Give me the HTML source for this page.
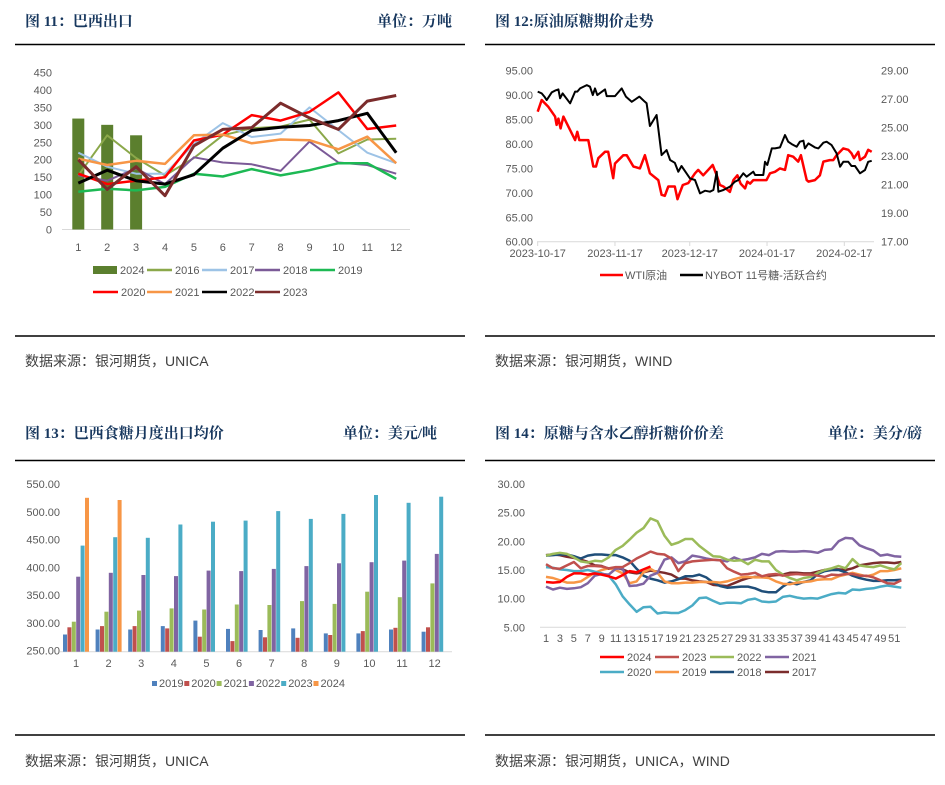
<!DOCTYPE html>
<html><head><meta charset="utf-8"><style>
body{margin:0;background:#fff;}
svg text{font-family:"Liberation Sans","Noto Sans CJK SC",sans-serif;}
.title{font-family:"Liberation Serif","Noto Serif CJK SC",serif;font-weight:bold;font-size:15px;fill:#17375E;}
.src{font-size:14px;fill:#404040;}
.ax{font-size:11px;fill:#595959;}
</style></head><body>
<svg id="root" width="945" height="780" viewBox="0 0 945 780" xmlns="http://www.w3.org/2000/svg">
<g>
<text class="title" x="25" y="26">图 11：巴西出口</text>
<text class="title" x="452" y="26" text-anchor="end">单位：万吨</text>
<line x1="15" y1="44.5" x2="465" y2="44.5" stroke="#000" stroke-width="1.5"/>
</g>
<g>
<text class="title" x="495" y="26">图 12:原油原糖期价走势</text>
<line x1="485" y1="44.5" x2="935" y2="44.5" stroke="#000" stroke-width="1.5"/>
</g>
<line x1="15" y1="336" x2="465" y2="336" stroke="#000" stroke-width="1.5"/>
<line x1="485" y1="336" x2="935" y2="336" stroke="#000" stroke-width="1.5"/>
<text class="src" x="25" y="366">数据来源：银河期货，UNICA</text>
<text class="src" x="495" y="366">数据来源：银河期货，WIND</text>
<g>
<text class="title" x="25" y="438">图 13：巴西食糖月度出口均价</text>
<text class="title" x="437" y="438" text-anchor="end">单位：美元/吨</text>
<line x1="15" y1="460.5" x2="465" y2="460.5" stroke="#000" stroke-width="1.5"/>
</g>
<g>
<text class="title" x="495" y="438">图 14：原糖与含水乙醇折糖价价差</text>
<text class="title" x="922" y="438" text-anchor="end">单位：美分/磅</text>
<line x1="485" y1="460.5" x2="935" y2="460.5" stroke="#000" stroke-width="1.5"/>
</g>
<line x1="15" y1="735" x2="465" y2="735" stroke="#000" stroke-width="1.5"/>
<line x1="485" y1="735" x2="935" y2="735" stroke="#000" stroke-width="1.5"/>
<text class="src" x="25" y="766">数据来源：银河期货，UNICA</text>
<text class="src" x="495" y="766">数据来源：银河期货，UNICA，WIND</text>
<g id="c1"></g>
<g id="c2"></g>
<g id="c3"></g>
<g id="c4"></g>
</svg>
<script>
// ---------- Chart 1 data ----------
const c1Months = ['1','2','3','4','5','6','7','8','9','10','11','12'];
const c1Ticks = [0,50,100,150,200,250,300,350,400,450];
const c1Bars2024 = [318,300,270];
const c1_2016 = [155,270,205,155,205,270,290,295,315,218,258,260];
const c1_2017 = [220,180,160,160,245,305,265,275,350,285,220,190];
const c1_2018 = [155,140,175,130,207,192,187,168,252,192,185,160];
const c1_2019 = [108,117,112,122,160,152,173,155,170,190,190,145];
const c1_2020 = [160,130,140,150,255,272,328,312,337,393,288,298];
const c1_2021 = [203,185,197,188,270,272,247,258,256,230,266,190];
const c1_2022 = [133,170,140,130,157,233,284,293,298,312,333,220];
const c1_2023 = [200,115,180,97,240,287,292,362,320,287,368,384];
// ---------- Chart 2 data ----------
const c2TickLabels = ['2023-10-17','2023-11-17','2023-12-17','2024-01-17','2024-02-17'];
const c2TickDays = [0,31,61,92,123];
const c2LeftTicks = [60,65,70,75,80,85,90,95];
const c2RightTicks = [17,19,21,23,25,27,29];
const wtiDays = [0,1.6,4.3,7,7.6,8.3,9.2,10.3,15,15.9,16.7,20.3,22.3,23.4,24.3,27,28.3,30.3,31,34.4,35.7,38.4,41,43,45,48.4,49.7,51,52.4,55,56.1,57,58.2,60.4,63.1,64.4,66.4,70.2,71.8,73.1,74.5,77.1,78.5,80.1,81.4,83.2,84.1,85.2,86.5,89.8,91.8,93.2,95.2,97.2,99.2,100.5,102.5,104.5,105.6,107.9,108.6,111.2,113.2,114.6,117.2,118.6,119.9,122.6,124.6,125.9,126.9,128.6,129.3,131.3,132.6,134];
const wtiValues = [86.6,89.0,87.6,85.6,83.9,85.2,83.2,85.6,80.8,82.5,80.8,80.8,75.4,75.4,77.1,78.4,78.4,73.0,76.0,77.7,77.7,75.4,75.0,77.7,74.0,72.6,69.6,69.4,71.3,71.3,68.7,70.0,71.6,72.0,74.0,74.7,73.6,75.7,73.6,71.6,71.3,70.2,72.6,73.6,71.9,70.9,72.3,71.9,72.6,72.6,72.6,74.0,74.3,75.0,74.7,77.7,77.4,76.4,77.7,72.6,72.3,72.6,73.6,76.4,76.7,76.7,77.7,79.1,78.8,78.1,77.1,78.4,76.7,77.4,78.8,78.4];
const sugarDays = [0,1.6,2.7,3.6,5.6,7,8.3,9,10,13,15,15.9,17,19.7,21,22.1,23,23.9,27,27.7,31,33.7,35.4,37.7,40.8,43,43.7,45,47.7,49.7,51.7,53.1,55,56.4,57.7,59.7,61.1,63.1,65.1,67.1,69.1,70.5,71.8,72.5,74.5,77.1,79.1,80.5,82.5,83.8,86.5,87.2,90.5,91.2,92.1,93.9,95.2,97.2,99.2,100.5,101.9,103.9,105.2,106.6,107.2,108.6,111.2,112.6,114.6,115.9,117.9,119.9,121.3,122.6,124.6,125.9,127.3,129.3,131.3,132.6,134];
const sugarValues = [27.53,27.41,27.18,26.94,27.48,27.6,27.69,27.06,27.41,26.71,27.53,27.53,27.76,27.99,27.88,27.29,27.76,27.29,27.69,27.22,27.22,27.76,27.18,26.82,27.18,26.82,26.71,25.12,25.89,23.08,23.43,22.73,22.54,21.91,22.31,21.8,21.44,21.33,20.39,20.58,20.51,20.63,21.91,20.51,20.63,20.86,21.21,21.33,21.8,21.56,21.91,21.68,21.68,22.61,22.38,23.55,23.55,23.62,24.49,24.02,23.85,23.67,24.02,24.09,23.55,23.9,23.62,23.55,23.95,24.02,23.78,23.2,22.26,22.61,22.61,22.31,22.31,21.8,22.03,22.61,22.68];
// ---------- Chart 3 data ----------
const c3Months = ['1','2','3','4','5','6','7','8','9','10','11','12'];
const c3Ticks = [250,300,350,400,450,500,550];
const c3_2019 = [281,290,290,296,306,291,289,292,283,283,290,286];
const c3_2020 = [294,296,296,292,277,269,276,275,280,287,293,294];
const c3_2021 = [304,322,324,328,326,335,334,341,336,358,348,373];
const c3_2022 = [385,392,388,386,396,395,399,404,409,411,414,426];
const c3_2023 = [441,456,455,479,484,486,503,489,498,532,518,529];
const c3_2024 = [527,523];
// ---------- Chart 4 data ----------
const c4Ticks = [5,10,15,20,25,30];
const c4_2024 = [12.9,12.8,12.9,13.8,14.4,14.4,14.2,14.4,14.2,13.9,13.5,14.1,14.8,14.6,15.1,15.6];
const c4_2023 = [16.0,15.3,15.2,15.8,16.4,15.3,15.7,15.7,15.6,15.3,15.5,15.5,16.2,17.0,17.6,18.2,17.8,17.7,17.0,14.8,16.2,16.5,16.6,16.7,16.8,16.7,15.3,14.7,14.2,14.3,14.5,13.9,14.2,14.3,14.0,14.2,14.3,14.2,14.2,14.0,13.8,14.2,14.1,14.3,14.3,14.0,14.0,13.7,13.2,12.7,12.6,13.2];
const c4_2022 = [17.5,17.8,18.0,17.8,17.2,16.5,16.3,16.6,16.5,17.2,18.5,19.2,20.3,21.5,22.3,24.0,23.5,21.0,19.4,19.8,20.4,20.4,19.2,18.3,17.4,17.3,16.8,16.6,16.7,16.0,16.8,16.5,16.5,15.0,14.2,13.6,13.2,13.6,13.8,14.5,15.0,15.3,15.7,15.3,16.9,15.8,15.6,15.5,15.8,15.4,15.1,16.2];
const c4_2021 = [12.1,11.6,11.9,11.7,11.8,12.0,12.7,14.0,14.3,14.2,15.2,15.3,12.2,12.3,12.6,14.0,14.5,16.8,17.2,16.2,16.5,17.5,17.3,17.0,16.8,16.7,16.5,17.2,16.7,16.9,17.2,17.8,17.6,18.2,18.3,18.2,18.2,18.3,18.2,18.0,18.5,18.6,20.0,20.6,20.5,19.3,18.8,18.4,17.5,17.7,17.4,17.3];
const c4_2020 = [15.5,15.4,15.1,15.0,14.8,14.8,15.0,14.7,14.4,14.0,12.5,10.4,9.0,7.7,8.5,8.6,7.4,7.6,7.5,7.5,8.0,8.8,10.1,10.2,9.6,9.1,9.3,9.3,9.2,9.8,10.0,9.5,9.4,9.5,10.3,10.5,10.2,10.0,10.1,10.0,10.4,10.8,11.0,10.9,11.6,11.5,11.7,11.8,12.1,12.3,12.1,11.9];
const c4_2019 = [13.8,13.6,13.2,12.8,12.8,13.0,13.8,14.5,15.0,15.3,15.0,14.4,12.7,13.0,14.6,15.2,14.5,13.0,12.7,12.7,12.8,12.8,12.9,12.9,12.9,12.8,13.0,13.4,13.7,13.8,13.7,13.7,13.6,13.0,12.6,12.5,12.8,12.9,13.0,13.3,13.4,13.4,13.9,14.2,14.5,14.2,13.9,14.2,14.8,14.8,15.0,15.3];
const c4_2018 = [17.5,17.6,17.7,17.7,17.4,17.0,17.5,17.7,17.7,17.6,17.6,17.2,16.6,15.2,14.0,13.5,13.2,12.8,13.0,13.4,13.9,13.9,14.2,13.7,12.8,12.2,11.9,12.0,12.1,12.1,11.8,11.3,11.1,11.1,12.1,12.8,12.5,12.9,13.2,14.3,14.8,15.0,15.0,14.6,14.0,13.6,13.3,13.1,13.1,13.2,13.2,13.3];
const c4_2017 = [17.6,17.7,17.6,17.3,17.1,16.8,16.4,15.8,15.7,15.2,15.4,15.1,14.6,14.4,14.6,14.9,14.7,14.5,14.2,13.5,13.5,13.2,13.0,12.9,12.4,12.3,12.2,12.7,13.2,13.6,13.8,13.8,14.0,14.1,14.2,14.5,14.5,14.4,14.4,14.7,15.0,15.1,15.1,15.0,15.3,15.8,16.0,16.2,16.3,16.3,16.2,16.4];

const NS='http://www.w3.org/2000/svg';
function mk(parent, tag, attrs, txt){
  const el=document.createElementNS(NS,tag);
  for(const k in attrs) el.setAttribute(k,attrs[k]);
  if(txt!==undefined) el.textContent=txt;
  parent.appendChild(el); return el;
}
function polyline(parent, xs, ys, color, w, name){
  const pts=xs.map((x,i)=>x.toFixed(1)+','+ys[i].toFixed(1)).join(' ');
  const el=mk(parent,'polyline',{points:pts,fill:'none',stroke:color,'stroke-width':w,'stroke-linejoin':'round'});
  
  
  return el;
}
function label(parent, x, y, t, cls, anchor, name, size){
  const el=mk(parent,'text',{x:x,y:y,class:cls,'text-anchor':anchor||'start'},t);
  if(size) el.setAttribute('font-size',size);
  
  
  return el;
}

// ---------- Chart 1 ----------
(function(){
  const g=document.getElementById('c1');
  const X=i=>78.3+i*28.9, Y=v=>229.5-v*(157/450);
  c1Ticks.forEach(t=>label(g,52,Y(t)+4,String(t),'ax','end','y-tick-label',12));
  mk(g,'line',{x1:62,y1:229.5,x2:410,y2:229.5,stroke:'#d9d9d9'});
  c1Months.forEach((m,i)=>label(g,X(i),251,m,'ax','middle','x-tick-label',12));
  c1Bars2024.forEach((v,i)=>{
    const r=mk(g,'rect',{x:X(i)-6,y:Y(v),width:12,height:229.5-Y(v),fill:'#5B7F2E'});
    
    
  });
  const series=[[c1_2016,'#8BA84A',2,'line-2016'],[c1_2017,'#9DC3E6',2,'line-2017'],[c1_2018,'#7B5A97',2,'line-2018'],[c1_2019,'#1DB954',2.5,'line-2019'],[c1_2020,'#FF0000',2.5,'line-2020'],[c1_2021,'#F79646',2.5,'line-2021'],[c1_2022,'#000000',3,'line-2022'],[c1_2023,'#7B2C2C',3,'line-2023']];
  series.forEach(s=>polyline(g,s[0].map((v,i)=>X(i)),s[0].map(Y),s[1],s[2],s[3]));
  const r=mk(g,'rect',{x:93,y:266,width:24,height:8,fill:'#5B7F2E'});
  
  
  label(g,120,274,'2024','ax','start','legend-label-2024',12);
  const leg=[[147,270,'#8BA84A','2016'],[202,270,'#9DC3E6','2017'],[255,270,'#7B5A97','2018'],[310,270,'#1DB954','2019'],[93,292,'#FF0000','2020'],[147,292,'#F79646','2021'],[202,292,'#000000','2022'],[255,292,'#7B2C2C','2023']];
  leg.forEach(l=>{
    const ln=mk(g,'line',{x1:l[0],y1:l[1],x2:l[0]+25,y2:l[1],stroke:l[2],'stroke-width':2.5});
    
    
    label(g,l[0]+28,l[1]+4,l[3],'ax','start','legend-label-'+l[3],12);
  });
})();

// ---------- Chart 2 ----------
(function(){
  const g=document.getElementById('c2');
  const X=d=>537.7+d*(306.6/123);
  const YL=v=>241.7-(v-60)*(171/35);
  const YR=v=>241.7-(v-17)*(171/12);
  c2LeftTicks.forEach(t=>label(g,533,YL(t)+4,t.toFixed(2),'ax','end','left-y-tick',10));
  c2RightTicks.forEach(t=>label(g,881,YR(t)+4,t.toFixed(2),'ax','start','right-y-tick',10));
  mk(g,'line',{x1:537,y1:241.7,x2:874,y2:241.7,stroke:'#d9d9d9'});
  c2TickDays.forEach((d,i)=>{
    mk(g,'line',{x1:X(d),y1:241.7,x2:X(d),y2:246,stroke:'#d9d9d9'});
    label(g,X(d),257,c2TickLabels[i],'ax','middle','x-date-label',10);
  });
  polyline(g,wtiDays.map(X),wtiValues.map(YL),'#FF0000',2.5,'line-wti-crude');
  polyline(g,sugarDays.map(X),sugarValues.map(YR),'#000000',2,'line-nybot-sugar');
  const l1=mk(g,'line',{x1:600,y1:275,x2:623,y2:275,stroke:'#FF0000','stroke-width':2.5});
  
  
  label(g,625,279,'WTI原油','ax','start','legend-label-wti',10);
  const l2=mk(g,'line',{x1:680,y1:275,x2:703,y2:275,stroke:'#000','stroke-width':2.5});
  
  
  label(g,705,279,'NYBOT 11号糖-活跃合约','ax','start','legend-label-sugar',10);
})();

// ---------- Chart 3 ----------
(function(){
  const g=document.getElementById('c3');
  const Y=v=>651.7-(v-250)*(166.7/300);
  const GX=i=>76+i*32.6;
  c3Ticks.forEach(t=>label(g,60,Y(t)+3,t.toFixed(2),'ax','end','y-tick-label',8.5));
  mk(g,'line',{x1:60,y1:651.7,x2:452,y2:651.7,stroke:'#d9d9d9'});
  c3Months.forEach((m,i)=>label(g,GX(i),667,m,'ax','middle','x-tick-label',9));
  const sets=[[c3_2019,'#4F81BD','2019'],[c3_2020,'#C0504D','2020'],[c3_2021,'#9BBB59','2021'],[c3_2022,'#8064A2','2022'],[c3_2023,'#4BACC6','2023'],[c3_2024,'#F79646','2024']];
  sets.forEach((s,k)=>{
    s[0].forEach((v,i)=>{
      const x=GX(i)-13+k*4.4;
      const r=mk(g,'rect',{x:x.toFixed(1),y:Y(v).toFixed(1),width:4,height:(651.7-Y(v)).toFixed(1),fill:s[1]});
      
      
    });
    const lx=152+k*32.3;
    const sq=mk(g,'rect',{x:lx,y:681,width:5,height:5,fill:s[1]});
    
    
    label(g,lx+7,687,s[2],'ax','start','legend-label-'+s[2],8.5);
  });
})();

// ---------- Chart 4 ----------
(function(){
  const g=document.getElementById('c4');
  const X=w=>546+(w-1)*6.966;
  const Y=v=>627.3-(v-5)*(143.3/25);
  c4Ticks.forEach(t=>label(g,525,Y(t)+4,t.toFixed(2),'ax','end','y-tick-label',10.5));
  mk(g,'line',{x1:540,y1:627.3,x2:906,y2:627.3,stroke:'#d9d9d9'});
  for(let w=1;w<=51;w+=2) label(g,X(w),642,String(w),'ax','middle','x-week-label',10.5);
  const sets=[[c4_2017,'#7B2C2C','2017'],[c4_2018,'#1F4E79','2018'],[c4_2019,'#F79646','2019'],[c4_2020,'#4BACC6','2020'],[c4_2021,'#8064A2','2021'],[c4_2022,'#9BBB59','2022'],[c4_2023,'#C0504D','2023'],[c4_2024,'#FF0000','2024']];
  sets.forEach(s=>polyline(g,s[0].map((v,i)=>X(i+1)),s[0].map(Y),s[1],2.5,'line-'+s[2]));
  const leg=[[600,657,'#FF0000','2024'],[655,657,'#C0504D','2023'],[710,657,'#9BBB59','2022'],[765,657,'#8064A2','2021'],[600,672,'#4BACC6','2020'],[655,672,'#F79646','2019'],[710,672,'#1F4E79','2018'],[765,672,'#7B2C2C','2017']];
  leg.forEach(l=>{
    const ln=mk(g,'line',{x1:l[0],y1:l[1],x2:l[0]+24,y2:l[1],stroke:l[2],'stroke-width':2.5});
    
    
    label(g,l[0]+27,l[1]+4,l[3],'ax','start','legend-label-'+l[3],10.5);
  });
})();
</script>
</body></html>
